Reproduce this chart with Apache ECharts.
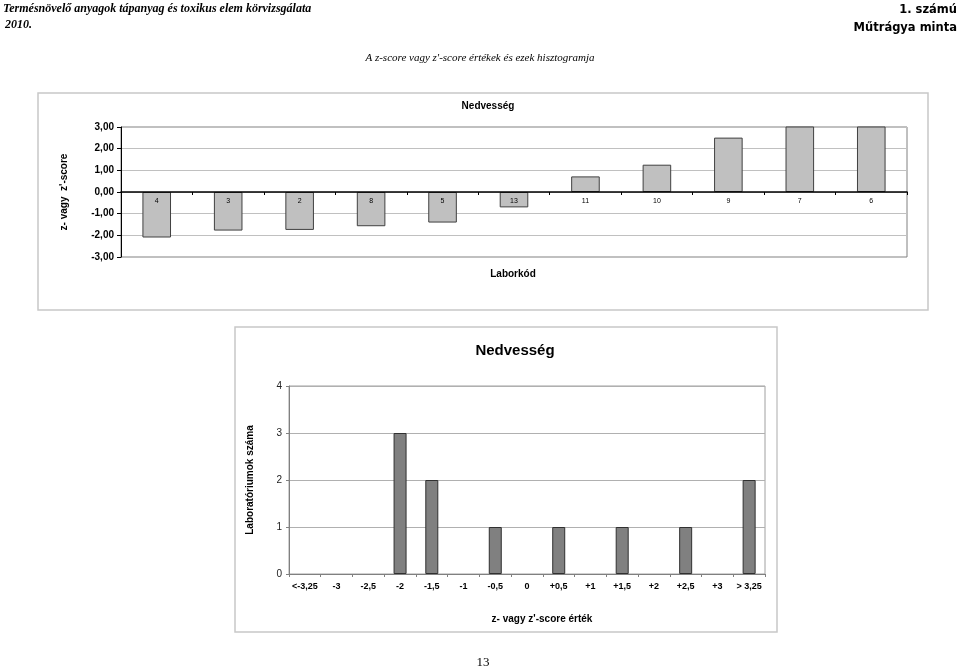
<!DOCTYPE html>
<html><head><meta charset="utf-8">
<script src="https://cdn.jsdelivr.net/npm/echarts@6/dist/echarts.min.js"></script>
<style>html,body{margin:0;padding:0;background:#fff}#c{width:960px;height:667px}</style>
</head><body><div id="c"></div>
<script>
// Top chart: z-scores per lab code
var labCodes = ['4','3','2','8','5','13','11','10','9','7','6'];
var zScores = [-2.10, -1.78, -1.75, -1.58, -1.41, -0.71, 0.72, 1.26, 2.51, 3.40, 3.60];
var zTicks = [-3, -2, -1, 0, 1, 2, 3];
// Bottom chart: histogram
var binLabels = ['<-3,25','-3','-2,5','-2','-1,5','-1','-0,5','0','+0,5','+1','+1,5','+2','+2,5','+3','> 3,25'];
var binCounts = [0, 0, 0, 3, 2, 0, 1, 0, 1, 0, 1, 0, 1, 0, 2];

var chart = echarts.init(document.getElementById('c'), null, {renderer:'canvas'});
var F = 'Liberation Sans, Arial, sans-serif';
function comma2(v){ return v.toFixed(2).replace('.', ','); }

var topH = 130;
var zMin = zTicks[0], zMax = zTicks[zTicks.length - 1];
// move the category axis up to the zero line
var zeroOffset = -topH * (0 - zMin) / (zMax - zMin);

chart.setOption({
  animation: false,
  backgroundColor: '#fff',
  title: [
    {text: 'Termésnövelő anyagok tápanyag és toxikus elem körvizsgálata', left: -2, top: -2,
      textStyle: {fontFamily: 'Liberation Serif', fontStyle: 'italic', fontWeight: 'bold', fontSize: 12, color: '#000'}},
    {text: '2010.', left: 0, top: 14,
      textStyle: {fontFamily: 'Liberation Serif', fontStyle: 'italic', fontWeight: 'bold', fontSize: 12, color: '#000'}},
    {text: '1. számú', right: -2, top: -1,
      textStyle: {fontFamily: 'DejaVu Sans', fontWeight: 'bold', fontSize: 11.5, color: '#000'}},
    {text: 'Műtrágya minta', right: -2, top: 17,
      textStyle: {fontFamily: 'DejaVu Sans', fontWeight: 'bold', fontSize: 11.5, color: '#000'}},
    {text: "A z-score vagy z'-score értékek és ezek hisztogramja", left: 475, top: 48, textAlign: 'center',
      textStyle: {fontFamily: 'Liberation Serif', fontStyle: 'italic', fontWeight: 'normal', fontSize: 11, color: '#000'}},
    {text: 'Nedvesség', left: 483, top: 96, textAlign: 'center',
      textStyle: {fontFamily: F, fontWeight: 'bold', fontSize: 10, color: '#000'}},
    {text: 'Laborkód', left: 508, top: 264, textAlign: 'center',
      textStyle: {fontFamily: F, fontWeight: 'bold', fontSize: 10, color: '#000'}},
    {text: 'Nedvesség', left: 510, top: 338, textAlign: 'center',
      textStyle: {fontFamily: F, fontWeight: 'bold', fontSize: 15, color: '#000'}},
    {text: "z- vagy z'-score érték", left: 537, top: 609, textAlign: 'center',
      textStyle: {fontFamily: F, fontWeight: 'bold', fontSize: 10, color: '#000'}},
    {text: '13', left: 478, top: 651, textAlign: 'center',
      textStyle: {fontFamily: 'Liberation Serif', fontWeight: 'normal', fontSize: 13, color: '#000'}}
  ],
  graphic: [
    {type: 'rect', shape: {x: 38, y: 93, width: 890, height: 217}, style: {fill: 'none', stroke: '#c8c8c8', lineWidth: 1.5}, z: -1},
    {type: 'rect', shape: {x: 235, y: 327, width: 542, height: 305}, style: {fill: 'none', stroke: '#c8c8c8', lineWidth: 1.5}, z: -1}
  ],
  grid: [
    {left: 121, top: 127, width: 786, height: topH, show: true, borderColor: '#808080', borderWidth: 1, containLabel: false},
    {left: 289, top: 386, width: 476, height: 188, show: true, borderColor: '#a0a0a0', borderWidth: 1, containLabel: false}
  ],
  xAxis: [
    {type: 'category', gridIndex: 0, data: labCodes, position: 'bottom', offset: zeroOffset, z: 5,
      axisLine: {onZero: false, lineStyle: {color: '#000', width: 1.5}},
      axisTick: {show: true, alignWithLabel: false, length: 3, inside: false, lineStyle: {color: '#000'}},
      axisLabel: {fontFamily: F, fontSize: 7, color: '#000', margin: 6, interval: 0},
      splitLine: {show: false}},
    {type: 'category', gridIndex: 1, data: binLabels,
      axisLine: {lineStyle: {color: '#808080', width: 1}},
      axisTick: {show: true, alignWithLabel: false, length: 3, lineStyle: {color: '#808080'}},
      axisLabel: {fontFamily: F, fontSize: 9, fontWeight: 'bold', color: '#000', margin: 8, interval: 0},
      splitLine: {show: false}}
  ],
  yAxis: [
    {type: 'value', gridIndex: 0, min: zMin, max: zMax, interval: 1,
      name: "z- vagy  z'-score", nameLocation: 'middle', nameGap: 52, nameRotate: 90,
      nameTextStyle: {fontFamily: F, fontWeight: 'bold', fontSize: 10, color: '#000'},
      axisLine: {show: true, onZero: false, lineStyle: {color: '#000', width: 1}},
      axisTick: {show: true, length: 4, lineStyle: {color: '#000'}},
      axisLabel: {fontFamily: F, fontSize: 10, fontWeight: 'bold', color: '#000', margin: 7, formatter: comma2},
      splitLine: {show: true, lineStyle: {color: '#c0c0c0', width: 1}}},
    {type: 'value', gridIndex: 1, min: 0, max: 4, interval: 1,
      name: 'Laboratóriumok száma', nameLocation: 'middle', nameGap: 34, nameRotate: 90,
      nameTextStyle: {fontFamily: F, fontWeight: 'bold', fontSize: 10, color: '#000'},
      axisLine: {show: true, lineStyle: {color: '#808080', width: 1}},
      axisTick: {show: true, length: 3, lineStyle: {color: '#808080'}},
      axisLabel: {fontFamily: F, fontSize: 10, color: '#222', margin: 7},
      splitLine: {show: true, lineStyle: {color: '#b0b0b0', width: 1}}}
  ],
  series: [
    {type: 'bar', xAxisIndex: 0, yAxisIndex: 0, data: zScores, barWidth: '40%', clip: true,
      itemStyle: {color: '#c0c0c0', borderColor: '#404040', borderWidth: 1}},
    {type: 'bar', xAxisIndex: 1, yAxisIndex: 1,
      data: binCounts.map(function(v){ return v === 0 ? '-' : v; }), barWidth: 13,
      itemStyle: {color: '#808080', borderColor: '#303030', borderWidth: 1}}
  ]
});
</script></body></html>
